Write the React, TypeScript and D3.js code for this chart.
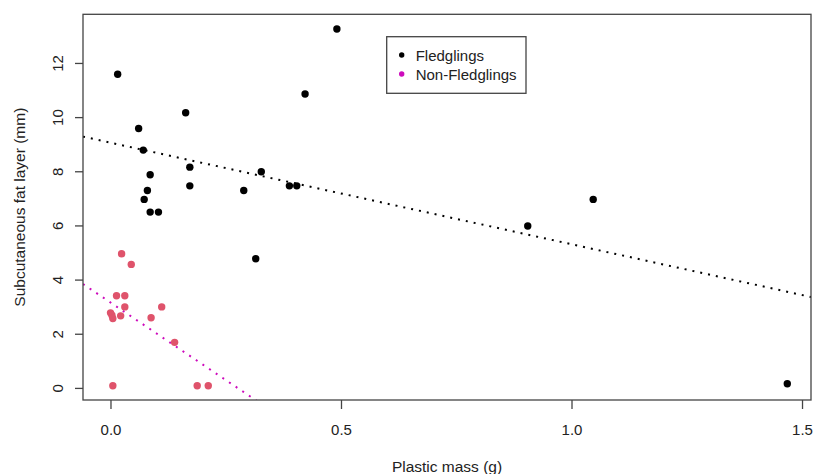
import React from "react";
import * as d3 from "d3";

const fledX = [0.0145, 0.060, 0.070, 0.072, 0.079, 0.085, 0.085, 0.103, 0.162, 0.171, 0.171, 0.288, 0.314, 0.326, 0.387, 0.403, 0.421, 0.490, 0.904, 1.046, 1.467];
const fledY = [11.6, 9.6, 8.8, 6.98, 7.31, 7.89, 6.51, 6.51, 10.18, 8.17, 7.48, 7.31, 4.79, 8.0, 7.48, 7.48, 10.87, 13.27, 6.0, 6.98, 0.17];

const nonX = [0.023, 0.044, 0.012, 0.030, 0.030, 0.110, -0.001, 0.002, 0.004, 0.021, 0.087, 0.138, 0.004, 0.187, 0.211];
const nonY = [4.97, 4.58, 3.42, 3.42, 3.01, 3.01, 2.79, 2.70, 2.58, 2.68, 2.61, 1.70, 0.1, 0.1, 0.1];

// regression lines: [intercept, slope]
const fledFit = [9.07, -3.75];
const nonFit = [3.16, -11.45];

const xTicks = [0, 0.5, 1.0, 1.5];
const yTicks = [0, 2, 4, 6, 8, 10, 12];
const legendLabels = ["Fledglings", "Non-Fledglings"];

const W = 813;
const H = 474;
const L = 83, R = 811, T = 14.3, B = 400;
const FONT = "'Liberation Sans', Arial, sans-serif";
const PINK_PT = "#DF536B";
const PINK_LINE = "#CD0BBC";

export default function App() {
  const x = d3.scaleLinear().domain([-0.0607, 1.5184]).range([L, R]);
  const y = d3.scaleLinear().domain([-0.428, 13.815]).range([B, T]);

  const line = d3
    .line<number>()
    .x((d) => x(d))
    .y((d) => 0);

  const fitPath = (fit: number[]) => {
    const [a, b] = fit;
    const xs = x.domain();
    const gen = d3
      .line<number>()
      .x((d) => x(d))
      .y((d) => y(a + b * d));
    return gen(xs) || "";
  };
  void line;

  return (
    <svg
      width={W}
      height={H}
      style={{ position: "fixed", left: 0, top: 0, background: "#fff" }}
      fontFamily={FONT}
    >
      <defs>
        <clipPath id="plotclip">
          <rect x={L} y={T} width={R - L} height={B - T} />
        </clipPath>
      </defs>
      <rect x={0} y={0} width={W} height={H} fill="#fff" />

      {/* fitted lines */}
      <g clipPath="url(#plotclip)">
        <path d={fitPath(fledFit)} stroke="#000" strokeWidth={2} strokeDasharray="2 6" fill="none" />
        <path d={fitPath(nonFit)} stroke={PINK_LINE} strokeWidth={2} strokeDasharray="2 6" fill="none" />
      </g>

      {/* points */}
      {fledX.map((d, i) => (
        <circle key={"f" + i} cx={x(d)} cy={y(fledY[i])} r={3.7} fill="#000" />
      ))}
      {nonX.map((d, i) => (
        <circle key={"n" + i} cx={x(d)} cy={y(nonY[i])} r={3.7} fill={PINK_PT} />
      ))}

      {/* box */}
      <rect x={L} y={T} width={R - L} height={B - T} fill="none" stroke="#444" strokeWidth={1.3} />

      {/* x axis */}
      <g>
        {xTicks.map((t) => (
          <g key={"xt" + t}>
            <line x1={x(t)} x2={x(t)} y1={B} y2={B + 9} stroke="#444" strokeWidth={1.3} />
            <text x={x(t)} y={434.5} textAnchor="middle" fontSize={15} fill="#222">
              {t.toFixed(1)}
            </text>
          </g>
        ))}
      </g>

      {/* y axis */}
      <g>
        {yTicks.map((t) => (
          <g key={"yt" + t}>
            <line x1={L - 8} x2={L} y1={y(t)} y2={y(t)} stroke="#444" strokeWidth={1.3} />
            <text
              transform={`translate(62.5,${y(t)}) rotate(-90)`}
              textAnchor="middle"
              fontSize={15}
              fill="#222"
            >
              {t}
            </text>
          </g>
        ))}
      </g>

      {/* axis labels */}
      <text x={(L + R) / 2} y={472} textAnchor="middle" fontSize={15.5} fill="#222">
        Plastic mass (g)
      </text>
      <text
        transform={`translate(24.5,${(T + B) / 2}) rotate(-90)`}
        textAnchor="middle"
        fontSize={15.5}
        fill="#222"
      >
        Subcutaneous fat layer (mm)
      </text>

      {/* legend */}
      <g>
        <rect x={386.7} y={36.7} width={139.3} height={56.6} fill="#fff" stroke="#444" strokeWidth={1.3} />
        {legendLabels.map((lab, i) => (
          <g key={lab}>
            <circle cx={401.7} cy={55 + i * 19} r={2.7} fill={i === 0 ? "#000" : PINK_LINE} />
            <text x={415.7} y={60.5 + i * 19} fontSize={15} fill="#222">
              {lab}
            </text>
          </g>
        ))}
      </g>
    </svg>
  );
}
